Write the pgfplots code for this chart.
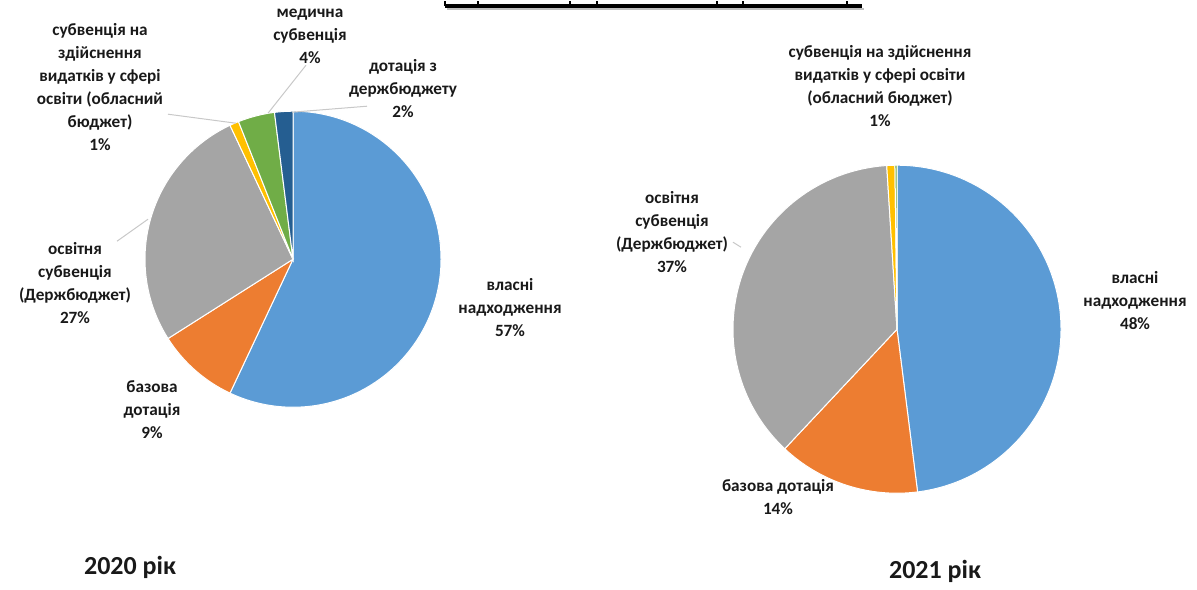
\documentclass[border=0pt]{standalone}
\usepackage{pgfplots}
\usepackage{pgfplotstable}
\usepackage{fontspec}
\pgfplotsset{compat=1.18}
\setmainfont{Carlito}

\definecolor{pieblue}{HTML}{5B9BD5}
\definecolor{pieorange}{HTML}{ED7D31}
\definecolor{piegray}{HTML}{A5A5A5}
\definecolor{pieyellow}{HTML}{FFC000}
\definecolor{piegreen}{HTML}{70AD47}
\definecolor{piedark}{HTML}{255E91}
\definecolor{leader}{HTML}{C8C8C8}

% shares in %, clockwise from 12 o'clock
\pgfplotstableread{
share color
57  pieblue
9   pieorange
27  piegray
1   pieyellow
4   piegreen
2   piedark
}\pieA
\pgfplotstableread{
share color
48  pieblue
14  pieorange
37  piegray
0.8 pieyellow
0.2 piegreen
}\pieB

\newcount\pierow
% #1 table, #2 cx, #3 cy, #4 radius (axis units, 1 unit = 0.5pt)
\newcommand\drawpie[4]{%
  \pgfplotstablegetrowsof{#1}%
  \edef\nrows{\pgfplotsretval}%
  \gdef\angA{90}%
  \pierow=0
  \loop
    \pgfplotstablegetelem{\the\pierow}{share}\of{#1}\let\v\pgfplotsretval
    \pgfplotstablegetelem{\the\pierow}{color}\of{#1}\let\c\pgfplotsretval
    \pgfmathsetmacro\angB{\angA-3.6*\v}%
    \pgfmathsetmacro\sx{#2+#4*cos(\angA)}%
    \pgfmathsetmacro\sy{#3-#4*sin(\angA)}%
    \pgfmathsetmacro\rad{#4*0.5}%
    \edef\temp{\noexpand\fill[\c,draw=white,line width=0.5pt]
      (axis cs:#2,#3) -- (axis cs:\sx,\sy)
      arc[start angle=\angA, end angle=\angB, radius=\rad pt] -- cycle;}%
    \temp
    \global\let\angA\angB
    \advance\pierow by 1
  \ifnum\pierow<\nrows\repeat
}

\begin{document}
\begin{tikzpicture}
\begin{axis}[
  x=0.5pt, y=0.5pt,
  xmin=0, xmax=1197, ymin=0, ymax=585,
  y dir=reverse,
  hide axis, clip=false,
  scale only axis,
]
\path (axis cs:0,0) rectangle (axis cs:1197,585);

% remnant of the cut-off heading
\draw[black!25, line width=1.2pt] (axis cs:447,7.5) -- (axis cs:864,7.5);
\draw[black, line width=2pt] (axis cs:445,5) -- (axis cs:862,5);
\foreach \xx in {445,478,570,597,717,743,847}{
  \edef\temp{\noexpand\draw[black, line width=1.2pt] (axis cs:\xx,0) -- (axis cs:\xx,5);}\temp
}

\drawpie{\pieA}{293}{258}{148}
\drawpie{\pieB}{897}{328}{164}

\tikzset{lbl/.style={align=center, font=\fontsize{8.6}{11.5}\selectfont\bfseries, text=black!90, inner sep=0pt}}

% leader lines, 2020
\draw[leader, line width=0.5pt] (axis cs:168,113) -- (axis cs:236,122);
\draw[leader, line width=0.5pt] (axis cs:306,64) -- (axis cs:268,112);
\draw[leader, line width=0.5pt] (axis cs:367,105) -- (axis cs:292,111);
\draw[leader, line width=0.5pt] (axis cs:148,218) -- (axis cs:117,240);
% leader lines, 2021
\draw[leader, line width=0.5pt] (axis cs:733,241) -- (axis cs:741,246);

% labels, 2020
\node[lbl] at (axis cs:100,86) {субвенція на\\здійснення\\видатків у сфері\\освіти (обласний\\бюджет)\\1\%};
\node[lbl] at (axis cs:310,35) {медична\\субвенція\\4\%};
\node[lbl] at (axis cs:403,87) {дотація з\\держбюджету\\2\%};
\node[lbl] at (axis cs:75,282) {освітня\\субвенція\\(Держбюджет)\\27\%};
\node[lbl] at (axis cs:152,408) {базова\\дотація\\9\%};
\node[lbl] at (axis cs:510,306) {власні\\надходження\\57\%};

% labels, 2021
\node[lbl] at (axis cs:880,85) {субвенція на здійснення\\видатків у сфері освіти\\(обласний бюджет)\\1\%};
\node[lbl] at (axis cs:672,231) {освітня\\субвенція\\(Держбюджет)\\37\%};
\node[lbl] at (axis cs:1135,299) {власні\\надходження\\48\%};
\node[lbl] at (axis cs:778,496) {базова дотація\\14\%};

% years
\node[font=\fontsize{13}{15}\selectfont\bfseries, text=black!90] at (axis cs:130,566) {2020 рік};
\node[font=\fontsize{13}{15}\selectfont\bfseries, text=black!90] at (axis cs:935,570) {2021 рік};
\end{axis}
\end{tikzpicture}
\end{document}
